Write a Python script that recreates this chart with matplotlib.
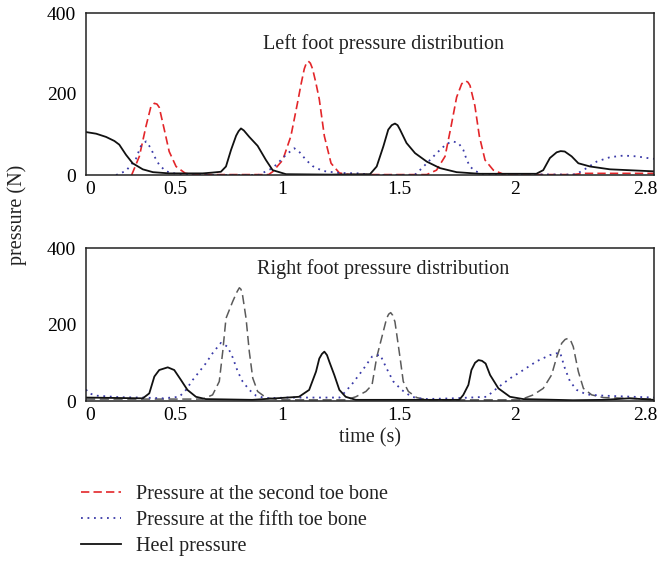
import matplotlib
matplotlib.use('Agg')
import matplotlib.pyplot as plt

plt.rcParams['font.family'] = ['Liberation Serif', 'DejaVu Serif']

# x positions are in plot units (the tick labels of the original are not evenly spaced)
tick_pos = [0.02, 0.44, 0.966, 1.543, 2.115, 2.756]
tick_labels = ['0', '0.5', '1', '1.5', '2', '2.8']
y_ticks = [0, 200, 400]

# ---- left foot ----
left_toe2_t = [0.225, 0.263, 0.296, 0.32, 0.337, 0.35, 0.361, 0.386, 0.41, 0.444, 0.49, 0.54,
               0.9, 0.92, 0.97, 1.01, 1.043, 1.06, 1.076, 1.086, 1.096, 1.106, 1.117, 1.133,
               1.15, 1.175, 1.208, 1.249, 1.3,
               1.68, 1.728, 1.77, 1.8, 1.827, 1.852, 1.862, 1.873, 1.883, 1.893, 1.917, 1.939,
               1.967, 2.008, 2.057, 2.1, 2.4, 2.45, 2.8]
left_toe2_p = [0, 46, 121, 169, 177, 175, 167, 112, 58, 21, 4, 1,
               1, 8, 37, 96, 179, 224, 262, 276, 281, 276, 262, 228,
               187, 96, 29, 5, 1,
               1, 12, 46, 121, 192, 225, 230, 232, 229, 221, 171, 96,
               37, 12, 2, 1, 1, 4, 4]

left_toe5_t = [0.148, 0.197, 0.246, 0.27, 0.296, 0.32, 0.337, 0.361, 0.394, 0.444, 0.5, 0.85,
               0.92, 0.953, 0.986, 1.027, 1.05, 1.085, 1.117, 1.167, 1.249, 1.35, 1.4, 1.62,
               1.646, 1.68, 1.713, 1.745, 1.778, 1.808, 1.836, 1.86, 1.877, 1.893, 1.917, 1.958,
               2.4, 2.42, 2.468, 2.517, 2.583, 2.65, 2.714, 2.78, 2.8]
left_toe5_p = [0, 10, 40, 71, 83, 66, 46, 25, 9, 3, 0, 0,
               17, 33, 50, 66, 58, 37, 22, 10, 5, 4, 0, 0,
               12, 29, 46, 62, 77, 83, 79, 62, 37, 21, 10, 2,
               1, 3, 17, 33, 44, 48, 46, 41, 40]

left_heel_t = [0, 0.05, 0.099, 0.14, 0.164, 0.197, 0.23, 0.28, 0.33, 0.41, 0.575, 0.624, 0.665,
               0.69, 0.715, 0.74, 0.752, 0.764, 0.778, 0.805, 0.846, 0.887, 0.92, 0.986, 1.2, 1.4,
               1.433, 1.466, 1.49, 1.507, 1.523, 1.536, 1.548, 1.58, 1.622, 1.68, 1.745, 1.827,
               1.94, 2.22, 2.254, 2.287, 2.32, 2.34, 2.36, 2.394, 2.427, 2.485, 2.583, 2.714, 2.8]
left_heel_p = [106, 102, 94, 84, 75, 50, 29, 14, 7, 4, 4, 6, 8,
               21, 62, 97, 108, 115, 110, 94, 72, 37, 12, 2, 1, 2,
               21, 71, 112, 123, 127, 123, 112, 79, 54, 33, 17, 7,
               3, 3, 12, 42, 56, 59, 58, 46, 29, 21, 14, 11, 9]

# ---- right foot ----
right_toe2_t = [0, 0.575, 0.624, 0.657, 0.674, 0.69, 0.723, 0.745, 0.756, 0.764, 0.772, 0.789,
                0.805, 0.822, 0.846, 0.887, 0.953, 1.28, 1.33, 1.38, 1.41, 1.433, 1.457, 1.482,
                1.492, 1.502, 1.512, 1.523, 1.548, 1.564, 1.589, 1.63, 1.68, 2.14, 2.205, 2.254,
                2.295, 2.32, 2.345, 2.362, 2.378, 2.39, 2.402, 2.427, 2.452, 2.493, 2.55, 2.8]
right_toe2_p = [5, 5, 16, 51, 129, 216, 260, 286, 296, 292, 276, 216,
                129, 60, 25, 9, 3, 3, 11, 25, 42, 114, 164, 216,
                227, 231, 224, 207, 114, 51, 25, 9, 3, 3, 16, 33,
                68, 114, 151, 161, 164, 157, 142, 77, 33, 16, 9, 5]

right_toe5_t = [0, 0.016, 0.05, 0.164, 0.28, 0.38, 0.46, 0.493, 0.526, 0.559, 0.59, 0.624, 0.665,
                0.698, 0.723, 0.748, 0.772, 0.805, 0.838, 0.887, 0.99, 1.25, 1.28, 1.314, 1.364,
                1.41, 1.45, 1.482, 1.515, 1.556, 1.605, 1.663, 1.81, 1.975, 2.025, 2.09, 2.156,
                2.222, 2.287, 2.337, 2.361, 2.386, 2.419, 2.468, 2.55, 2.8]
right_toe5_p = [30, 20, 14, 10, 9, 7, 11, 29, 55, 77, 98, 125, 152,
                142, 114, 77, 51, 29, 14, 7, 9, 9, 25, 46, 81,
                116, 121, 85, 51, 29, 11, 5, 7, 11, 33, 59, 81,
                104, 120, 127, 85, 51, 29, 17, 14, 9]

right_heel_t = [0, 0.28, 0.312, 0.337, 0.361, 0.403, 0.435, 0.468, 0.5, 0.542, 0.59, 0.82, 1.05,
                1.1, 1.134, 1.15, 1.163, 1.175, 1.188, 1.2, 1.224, 1.249, 1.28, 1.33, 1.84, 1.86,
                1.885, 1.9, 1.918, 1.935, 1.952, 1.97, 1.992, 2.033, 2.09, 2.156, 2.4, 2.55,
                2.68, 2.8]
right_heel_p = [9, 7, 20, 64, 81, 88, 81, 55, 29, 11, 5, 3, 11,
                29, 77, 111, 123, 129, 120, 102, 68, 29, 11, 3, 3, 16,
                42, 81, 100, 107, 105, 98, 68, 33, 11, 5, 2, 3,
                7, 3]

labels = ['Pressure at the second toe bone', 'Pressure at the fifth toe bone', 'Heel pressure']

fig = plt.figure(figsize=(6.57, 5.61), dpi=100)
ax1 = fig.add_axes([86 / 657, 1 - 175 / 561, 568 / 657, 162 / 561])
ax2 = fig.add_axes([86 / 657, 1 - 401 / 561, 568 / 657, 153 / 561])

red = '#e3262a'
blue = '#3a3aa8'
gray = '#5a5a5a'
black = '#111111'

l1, = ax1.plot(left_toe2_t, left_toe2_p, color=red, lw=1.2, dashes=(5, 2.5))
l2, = ax1.plot(left_toe5_t, left_toe5_p, color=blue, lw=1.3, dashes=(1, 2.6))
l3, = ax1.plot(left_heel_t, left_heel_p, color=black, lw=1.3)

ax2.plot(right_toe2_t, right_toe2_p, color=gray, lw=1.1, dashes=(6, 3))
ax2.plot(right_toe5_t, right_toe5_p, color=blue, lw=1.3, dashes=(1, 2.6))
ax2.plot(right_heel_t, right_heel_p, color=black, lw=1.3)

for ax in (ax1, ax2):
    ax.set_xlim(0, 2.8)
    ax.set_ylim(0, 400)
    ax.set_xticks(tick_pos)
    ax.set_xticklabels(tick_labels)
    ax.set_yticks(y_ticks)
    ax.tick_params(length=0, labelsize=14, pad=4)
    ax.tick_params(axis='y', pad=7)
    for s in ax.spines.values():
        s.set_linewidth(1.1)
        s.set_color('#222222')

ax1.text(0.523, 0.81, 'Left foot pressure distribution', transform=ax1.transAxes,
         ha='center', va='center', fontsize=14.5, color='#222222')
ax2.text(0.523, 0.86, 'Right foot pressure distribution', transform=ax2.transAxes,
         ha='center', va='center', fontsize=14.5, color='#222222')

fig.text(17 / 657, 1 - 215 / 561, 'pressure (N)', rotation=90, ha='center', va='center',
         fontsize=14.5, color='#222222')
fig.text(370 / 657, 1 - 438 / 561, 'time (s)', ha='center', va='center',
         fontsize=14.5, color='#222222')

fig.legend([l1, l2, l3], labels, loc='upper left', bbox_to_anchor=(69 / 657, 1 - 473 / 561),
           frameon=False, fontsize=14.5, handlelength=2.0, handletextpad=0.75,
           labelspacing=0.35, labelcolor='#222222', borderaxespad=0.2)

fig.savefig('out.png', dpi=100)
